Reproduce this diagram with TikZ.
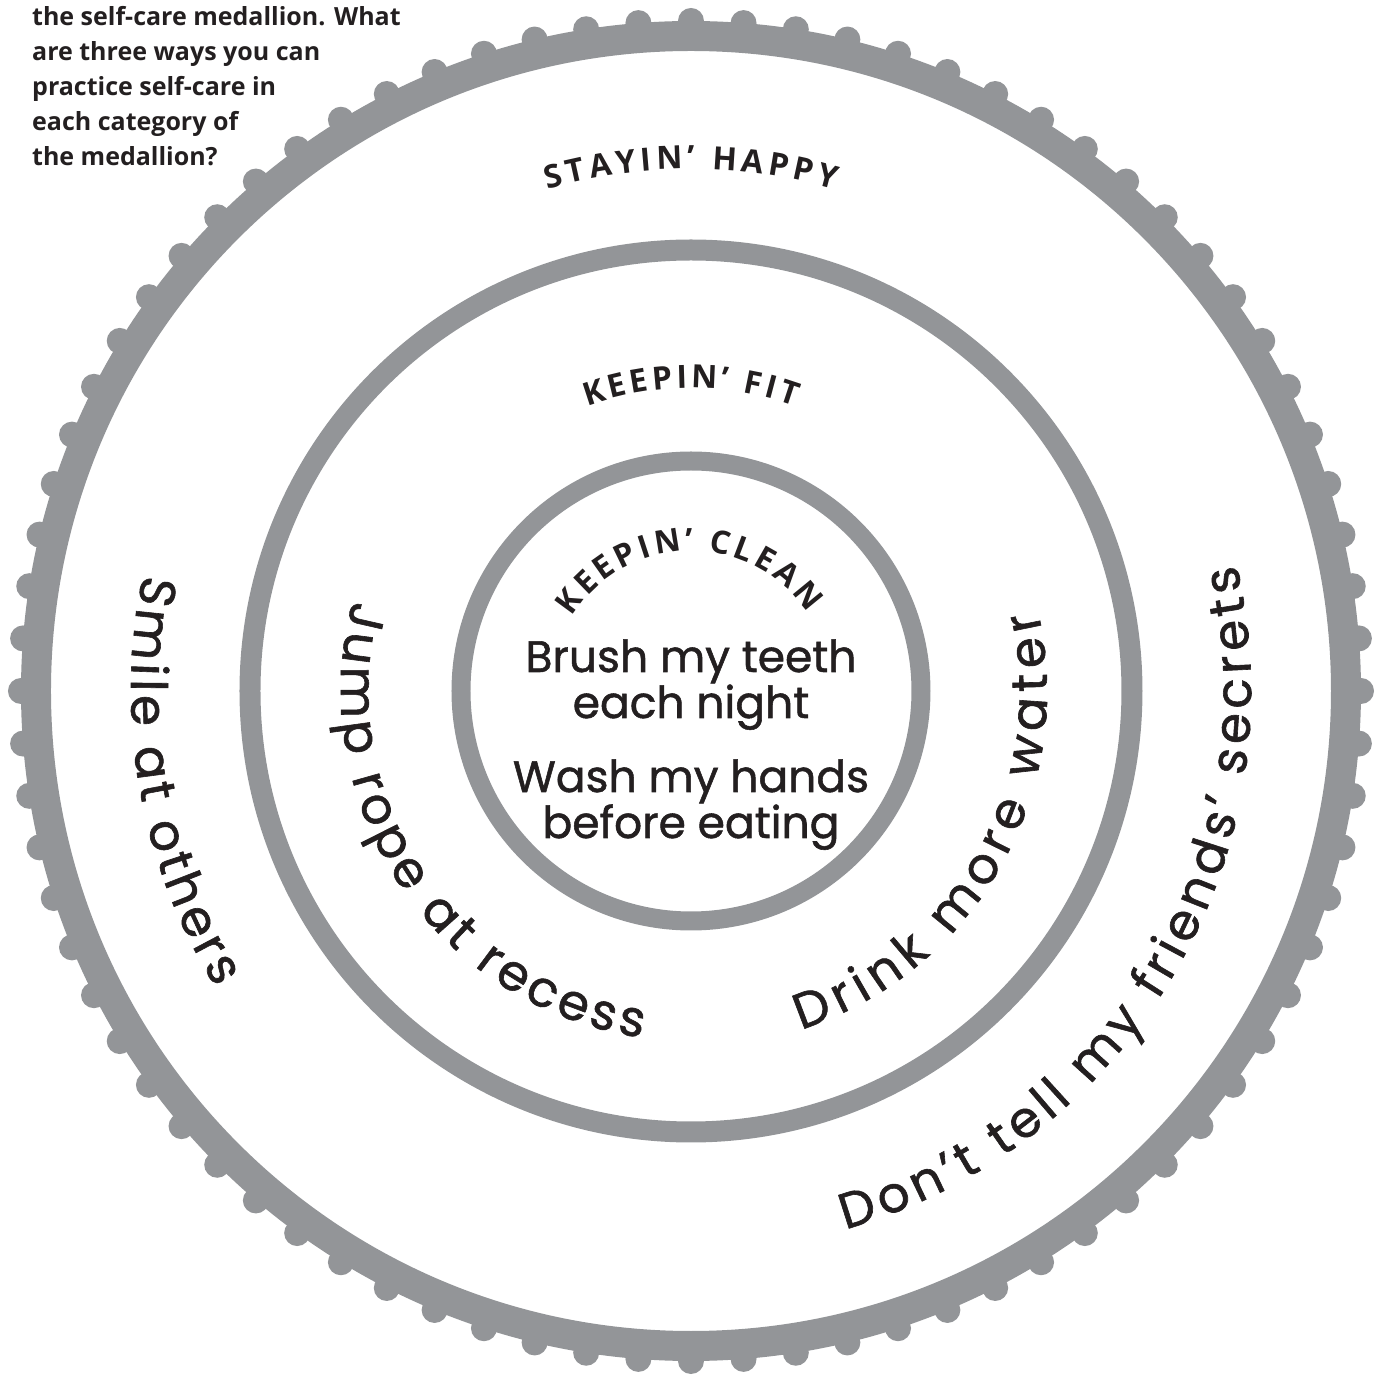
\documentclass[tikz,border=0pt]{standalone}
\usepackage{fontspec}
\setmainfont{Open Sans}
\newfontfamily\handfont[FakeBold=1.2]{Poppins}
\newfontfamily\labelfont{Open Sans}
\newfontfamily\headfont{Open Sans}
\usetikzlibrary{decorations.text}
\definecolor{ringgray}{RGB}{147,149,152}
\definecolor{ink}{RGB}{35,31,32}
\tikzset{
  ring/.style={draw=ringgray},
  bump/.style={fill=ringgray},
  headtext/.style={anchor=base west, align=left, text=ink, inner sep=0pt,
    font=\headfont\bfseries\fontsize{25}{35}\selectfont},
  handline/.style={anchor=base, text=ink, inner sep=0pt,
    font=\handfont\fontsize{44}{44}\selectfont},
  arclabel/.style={decorate, decoration={text along path, text align={fit to path}, text color=ink}},
}
\begin{document}
\begin{tikzpicture}[x=1pt,y=1pt]
\useasboundingbox (-691,-687) rectangle (694,691);
% outer ring with bumps
\draw[ring, line width=30] (0,0) circle (655);
\foreach \k in {0,...,79} \fill[bump] (\k*4.5:670) circle (13);
% middle and inner rings
\draw[ring, line width=21] (0,0) circle (441);
\draw[ring, line width=19] (0,0) circle (230);

% heading (anchored at the baseline of its last line)
\node[headtext] (head) at (-659,525) {the self-care medallion. What\\are three ways you can\\practice self-care in\\each category of\\the medallion?};

% category labels
\path[arclabel, decoration={text={|\labelfont\bfseries\fontsize{32}{32}\selectfont|STAYIN’ HAPPY}}]
  (106:522) arc[start angle=106, end angle=74, radius=522];
\path[arclabel, decoration={text={|\labelfont\bfseries\fontsize{32}{32}\selectfont|KEEPIN’ FIT}}]
  (110:303) arc[start angle=110, end angle=70, radius=303];
\path[arclabel, decoration={text={|\labelfont\bfseries\fontsize{32}{32}\selectfont|KEEPIN’ CLEAN}}]
  (148:140) arc[start angle=148, end angle=34, radius=140];

% inner answers
\node[handline] (l1) at (0,19) {Brush my teeth};
\node[handline] (l2) at (0,-27) {each night};
\node[handline] (l3) at (0,-101) {Wash my hands};
\node[handline] (l4) at (0,-147) {before eating};

% curved answers
\path[arclabel, decoration={text={|\handfont\fontsize{50}{50}\selectfont|Jump rope at recess}}]
  (165:350) arc[start angle=165, end angle=262, radius=350];
\path[arclabel, decoration={text={|\handfont\fontsize{50}{50}\selectfont|Drink more water}}]
  (288:356) arc[start angle=288, end angle=373, radius=356];
\path[arclabel, decoration={text={|\handfont\fontsize{50}{50}\selectfont|Smile at others}}]
  (168:560) arc[start angle=168, end angle=212, radius=560];
\path[arclabel, decoration={text={|\handfont\fontsize{50}{50}\selectfont|Don’t tell my friends’ secrets}}]
  (286:560) arc[start angle=286, end angle=373, radius=560];
\end{tikzpicture}
\end{document}
